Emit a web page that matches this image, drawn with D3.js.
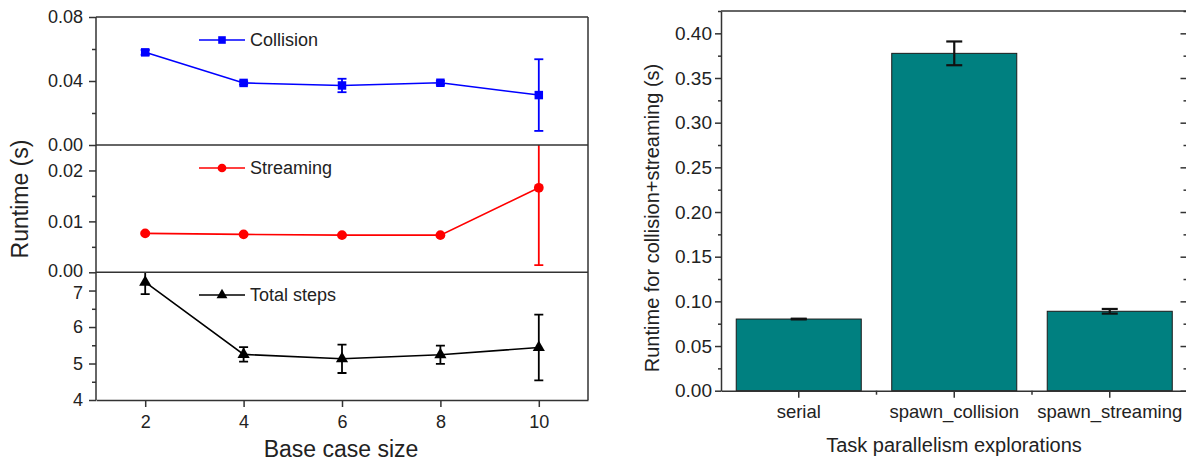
<!DOCTYPE html>
<html>
<head>
<meta charset="utf-8">
<script src="https://cdn.jsdelivr.net/npm/d3@7"></script>
<style>
    body { margin: 0; background: #fff; }
    svg { display: block; font-family: "Liberation Sans", Arial, sans-serif; }
    .axis path, .axis line { stroke: #333; stroke-width: 1.5; }
    .axis text { fill: #222; }
</style>
</head>
<body>
<svg id="chart" width="1186" height="462"></svg>
<script>
// ---------------------------------- Data ----------------------------------
const baseCaseSizes = [2, 4, 6, 8, 10];
const collision = [0.0579, 0.0388, 0.0372, 0.0389, 0.0312];
const collisionErr = [0.0015, 0.001, 0.0042, 0.0012, 0.0224];
const streaming = [0.00765, 0.00745, 0.0073, 0.0073, 0.0166];
const streamingErr = [0.0002, 0.0001, 0.0001, 0.0001, 0.0152];
const totalSteps = [7.23, 5.25, 5.13, 5.24, 5.44];
const totalStepsErr = [0.33, 0.2, 0.39, 0.25, 0.9];

const categories = ["serial", "spawn_collision", "spawn_streaming"];
const runtime = [0.0802, 0.3776, 0.0889];
const runtimeErr = [0.0004, 0.0133, 0.0026];

const svg = d3.select("#chart");

// ---------------------------------- Left: stacked panels ----------------------------------
var x = d3.scaleLinear().domain([1, 11]).range([96, 588]);

var panels = [
    { name: "Collision", values: collision, errs: collisionErr, color: "#0000ff", marker: d3.symbolSquare, size: 72,
      top: 17, bottom: 145, domain: [0, 0.08], ticks: [0, 0.04, 0.08], minor: [0.02, 0.06], fmt: ".2f", legendY: 40 },
    { name: "Streaming", values: streaming, errs: streamingErr, color: "#ff0000", marker: d3.symbolCircle, size: 75,
      top: 145, bottom: 272.3, domain: [0, 0.025], ticks: [0, 0.01, 0.02], minor: [0.005, 0.015], fmt: ".2f", legendY: 168 },
    { name: "Total steps", values: totalSteps, errs: totalStepsErr, color: "#000000", marker: d3.symbolTriangle, size: 64,
      top: 272.3, bottom: 400, domain: [4, 7.5], ticks: [4, 5, 6, 7], minor: [4.5, 5.5, 6.5], fmt: "d", legendY: 295 }
];

panels.forEach(function (p, i) {
    var y = d3.scaleLinear().domain(p.domain).range([p.bottom, p.top]);

    // axis ticks (major + minor)
    svg.append("g").attr("class", "axis").attr("transform", "translate(96,0)")
        .call(d3.axisLeft(y).tickValues(p.minor).tickSize(4).tickFormat(""))
        .select(".domain").remove();
    var ax = svg.append("g").attr("class", "axis").attr("transform", "translate(96,0)")
        .call(d3.axisLeft(y).tickValues(p.ticks).tickSize(7).tickPadding(6).tickFormat(d3.format(p.fmt)));
    ax.select(".domain").remove();
    ax.selectAll("text").style("font-size", "18px");
    // nudge the shared-edge labels apart a little
    if (i == 1) ax.selectAll("text").filter(function (d) { return d == 0; }).attr("dy", "0.22em");
    if (i == 2) ax.selectAll("text").filter(function (d) { return d == 7; }).attr("dy", "0.45em");

    // clip for each panel
    svg.append("clipPath").attr("id", "clip" + i)
        .append("rect").attr("x", 96).attr("y", p.top).attr("width", 492).attr("height", p.bottom - p.top);
    var g = svg.append("g").attr("clip-path", "url(#clip" + i + ")");

    var line = d3.line()
        .x(function (d, j) { return x(baseCaseSizes[j]); })
        .y(function (d) { return y(d); });
    g.append("path").datum(p.values)
        .attr("d", line).attr("fill", "none")
        .attr("stroke", p.color).attr("stroke-width", 1.6);

    // error bars
    var eb = g.selectAll(".err" + i).data(p.values).enter().append("g");
    eb.append("line")
        .attr("x1", function (d, j) { return x(baseCaseSizes[j]); })
        .attr("x2", function (d, j) { return x(baseCaseSizes[j]); })
        .attr("y1", function (d, j) { return y(d - p.errs[j]); })
        .attr("y2", function (d, j) { return y(d + p.errs[j]); });
    eb.append("line")
        .attr("x1", function (d, j) { return x(baseCaseSizes[j]) - 4.5; })
        .attr("x2", function (d, j) { return x(baseCaseSizes[j]) + 4.5; })
        .attr("y1", function (d, j) { return y(d - p.errs[j]); })
        .attr("y2", function (d, j) { return y(d - p.errs[j]); });
    eb.append("line")
        .attr("x1", function (d, j) { return x(baseCaseSizes[j]) - 4.5; })
        .attr("x2", function (d, j) { return x(baseCaseSizes[j]) + 4.5; })
        .attr("y1", function (d, j) { return y(d + p.errs[j]); })
        .attr("y2", function (d, j) { return y(d + p.errs[j]); });
    eb.selectAll("line").attr("stroke", p.color).attr("stroke-width", 1.8);

    g.selectAll(".mk" + i).data(p.values).enter().append("path")
        .attr("d", d3.symbol().type(p.marker).size(p.size))
        .attr("transform", function (d, j) { return "translate(" + x(baseCaseSizes[j]) + "," + y(d) + ")"; })
        .attr("fill", p.color);

    // legend
    svg.append("line").attr("x1", 199).attr("x2", 245).attr("y1", p.legendY).attr("y2", p.legendY)
        .attr("stroke", p.color).attr("stroke-width", 1.6);
    svg.append("path").attr("d", d3.symbol().type(p.marker).size(p.size * 0.8))
        .attr("transform", "translate(222," + p.legendY + ")").attr("fill", p.color);
    svg.append("text").attr("x", 250).attr("y", p.legendY).attr("dy", "0.36em")
        .style("font-size", "18px").attr("fill", "#222").text(p.name);

    // panel divider / frame line
    svg.append("line").attr("x1", 96).attr("x2", 588).attr("y1", p.top).attr("y2", p.top)
        .attr("stroke", "#333").attr("stroke-width", 1.5);
});

// frame left & right
svg.append("line").attr("x1", 96).attr("x2", 96).attr("y1", 17).attr("y2", 400).attr("stroke", "#333").attr("stroke-width", 1.5);
svg.append("line").attr("x1", 588).attr("x2", 588).attr("y1", 17).attr("y2", 400).attr("stroke", "#333").attr("stroke-width", 1.5);

var xAxis = svg.append("g").attr("class", "axis").attr("transform", "translate(0,400)")
    .call(d3.axisBottom(x).tickValues(baseCaseSizes).tickSize(7).tickPadding(8).tickSizeOuter(0));
xAxis.selectAll("text").style("font-size", "18px");

svg.append("text").attr("x", 341).attr("y", 457).attr("text-anchor", "middle")
    .style("font-size", "23px").attr("fill", "#222").text("Base case size");
svg.append("text").attr("transform", "translate(28,199) rotate(-90)").attr("text-anchor", "middle")
    .style("font-size", "23px").attr("fill", "#222").text("Runtime (s)");

// ---------------------------------- Right: bar chart ----------------------------------
var xR = d3.scaleBand().domain(categories).range([721, 1187.5]).paddingInner(0.196).paddingOuter(0.098);
var yR = d3.scaleLinear().domain([0, 0.425]).range([390.7, 11]);
var rTicks = d3.range(0, 0.401, 0.05);
var rMinor = d3.range(0.025, 0.426, 0.05);

svg.append("g").attr("class", "axis").attr("transform", "translate(721,0)")
    .call(d3.axisLeft(yR).tickValues(rMinor).tickSize(3).tickFormat(""))
    .select(".domain").remove();
var axR = svg.append("g").attr("class", "axis").attr("transform", "translate(721,0)")
    .call(d3.axisLeft(yR).tickValues(rTicks).tickSize(6).tickPadding(3).tickSizeOuter(0).tickFormat(d3.format(".2f")));
axR.selectAll("text").style("font-size", "19px");

// right side ticks pointing inward
svg.append("g").attr("class", "axis").attr("transform", "translate(1187.5,0)")
    .call(d3.axisLeft(yR).tickValues(rTicks).tickSize(7).tickFormat("").tickSizeOuter(0));
svg.append("g").attr("class", "axis").attr("transform", "translate(1187.5,0)")
    .call(d3.axisLeft(yR).tickValues(rMinor).tickSize(4).tickFormat(""))
    .select(".domain").remove();

svg.append("line").attr("x1", 721).attr("x2", 1187.5).attr("y1", 11).attr("y2", 11)
    .attr("stroke", "#333").attr("stroke-width", 1.5);

svg.selectAll(".bar").data(runtime).enter().append("rect")
    .attr("x", function (d, i) { return xR(categories[i]); })
    .attr("y", function (d) { return yR(d); })
    .attr("width", xR.bandwidth())
    .attr("height", function (d) { return yR(0) - yR(d); })
    .attr("fill", "#008080").attr("stroke", "#1a1a1a").attr("stroke-width", 1);

var ebR = svg.selectAll(".errR").data(runtime).enter().append("g")
    .attr("transform", function (d, i) { return "translate(" + (xR(categories[i]) + xR.bandwidth() / 2) + ",0)"; });
ebR.append("line").attr("x1", 0).attr("x2", 0)
    .attr("y1", function (d, i) { return yR(d - runtimeErr[i]); })
    .attr("y2", function (d, i) { return yR(d + runtimeErr[i]); });
ebR.append("line").attr("x1", -8).attr("x2", 8)
    .attr("y1", function (d, i) { return yR(d - runtimeErr[i]); })
    .attr("y2", function (d, i) { return yR(d - runtimeErr[i]); });
ebR.append("line").attr("x1", -8).attr("x2", 8)
    .attr("y1", function (d, i) { return yR(d + runtimeErr[i]); })
    .attr("y2", function (d, i) { return yR(d + runtimeErr[i]); });
ebR.selectAll("line").attr("stroke", "#111").attr("stroke-width", 2.2);

// bottom axis with category ticks and minor boundary ticks
var bounds = categories.slice(1).map(function (c) { return xR(c) - xR.step() * xR.paddingInner() / 2; });
svg.append("g").attr("class", "axis").attr("transform", "translate(0,390.7)")
    .selectAll("line").data(bounds).enter().append("line")
    .attr("x1", function (d) { return d; }).attr("x2", function (d) { return d; })
    .attr("y1", 0).attr("y2", 4);
var axB = svg.append("g").attr("class", "axis").attr("transform", "translate(0,390.7)")
    .call(d3.axisBottom(xR).tickSize(7).tickPadding(7).tickSizeOuter(0));
axB.selectAll("text").style("font-size", "18.5px");

svg.append("text").attr("x", 954).attr("y", 445).attr("dy", "0.36em").attr("text-anchor", "middle")
    .style("font-size", "20px").attr("fill", "#222").text("Task parallelism explorations");
svg.append("text").attr("transform", "translate(652,218) rotate(-90)").attr("dy", "0.36em").attr("text-anchor", "middle")
    .style("font-size", "20px").attr("fill", "#222").text("Runtime for collision+streaming (s)");
</script>
</body>
</html>
